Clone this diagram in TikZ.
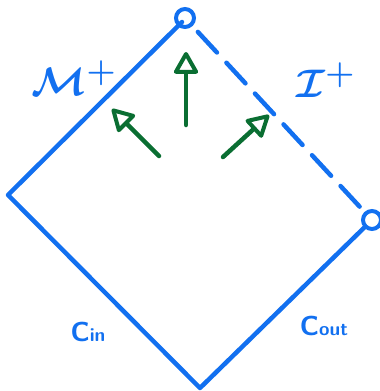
\documentclass[tikz,border=0pt]{standalone}
\usetikzlibrary{arrows.meta}
\definecolor{pblue}{RGB}{18,112,240}
\definecolor{pgreen}{RGB}{10,110,50}
\begin{document}
\begin{tikzpicture}[x=1pt,y=-1pt,
  bline/.style={draw=pblue,line width=4.5pt,line cap=round,line join=round},
  ring/.style={circle,draw=pblue,line width=4pt,minimum size=18pt,inner sep=0pt},
  garrow/.style={draw=pgreen,line width=4.5pt,line cap=round,
    -{Triangle[open,length=24pt,width=26pt,line width=4pt,round]}},
  lab/.style={text=pblue,inner sep=0pt}]
\useasboundingbox (0,0) rectangle (380,391);
\node[ring] (T) at (185,18) {};
\node[ring] (R) at (372,220) {};
\coordinate (L) at (8,195);
\coordinate (B) at (200,388);
\draw[bline] (T.center) ++(-3,4) coordinate (Ti) (Ti) -- (L) -- (B) -- (R);
\draw[bline,dash pattern=on 28pt off 14pt,dash phase=-8pt] (T) -- (R);
\coordinate (a1s) at (186,125); \coordinate (a1e) at (186,52);
\coordinate (a2s) at (159,156); \coordinate (a2e) at (112,109);
\coordinate (a3s) at (223,157); \coordinate (a3e) at (269,115);
\draw[garrow] (a1s) -- (a1e);
\draw[garrow] (a2s) -- (a2e);
\draw[garrow] (a3s) -- (a3e);
\node[lab,font=\Huge\boldmath,scale=1.6] (M) at (74,78) {$\mathcal{M}^{+}$};
\node[lab,font=\Huge\boldmath,scale=1.6] (I) at (326,80) {$\mathcal{I}^{+}$};
\node[lab,font=\Huge\sffamily\bfseries,scale=1.1] (Cin) at (88,332) {C{\LARGE in}};
\node[lab,font=\Huge\sffamily\bfseries,scale=1.1] (Cout) at (324,326) {C{\LARGE out}};
\end{tikzpicture}
\end{document}
